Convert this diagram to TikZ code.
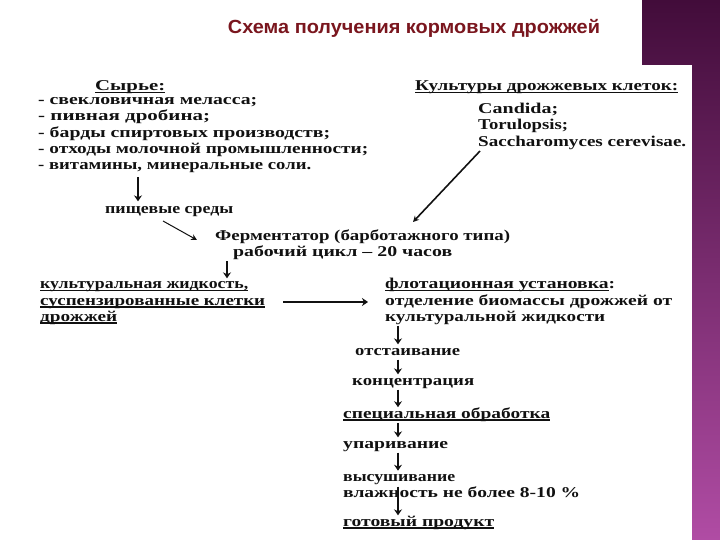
\documentclass[tikz,border=0pt]{standalone}
\usepackage{fontspec}
\setmainfont{Liberation Serif}
\newfontfamily\titlefont{Liberation Sans}
\usetikzlibrary{arrows.meta}
\definecolor{titlered}{RGB}{122,22,30}
\definecolor{plumtop}{RGB}{66,12,58}
\definecolor{plumbot}{RGB}{176,76,164}
\definecolor{ink}{RGB}{17,17,17}
\newsavebox\ulbox
\newcommand\fw[2]{\resizebox{#1pt}{\height}{\strut #2}}
\newcommand\ulx[1]{\sbox\ulbox{#1}\rlap{\rule[-2.5pt]{\wd\ulbox}{1.2pt}}\usebox\ulbox}
\tikzset{
  scan/.style={font=\fontsize{15}{15}\selectfont\bfseries, text=ink, inner sep=0pt, anchor=west, align=left},
  arr/.style={-{Stealth[length=6pt,width=8pt]}, line width=2pt, draw=ink},
  thinarr/.style={-{Stealth[length=6pt,width=6pt]}, line width=1.2pt, draw=ink}
}
\begin{document}
\begin{tikzpicture}[x=1pt,y=-1pt]
\useasboundingbox (0,0) rectangle (720,540);
\fill[white] (0,0) rectangle (720,540);
\shade[top color=plumtop, bottom color=plumbot] (642,0) rectangle (720,540);
\fill[white] (30,65) rectangle (692,540);

\node[font=\titlefont\bfseries\fontsize{19}{22}\selectfont, text=titlered, inner sep=0pt] (title) at (414,28) {\resizebox{372pt}{\height}{Схема получения кормовых дрожжей}};

\node[scan] (raw) at (95,88) {\fw{70}{\ulx{Сырье:}}};
\node[scan] (list) at (38,134) {\fw{219}{- свекловичная меласса;}\\ \fw{172}{- пивная дробина;}\\ \fw{292}{- барды спиртовых производств;}\\ \fw{330}{- отходы молочной промышленности;}\\ \fw{273}{- витамины, минеральные соли.}};

\node[scan] (cult) at (415,88) {\fw{263}{\ulx{Культуры дрожжевых клеток:}}};
\node[scan] (yeast) at (478,127) {\fw{80}{Candida;}\\ \fw{90}{Torulopsis;}\\ \fw{208}{Saccharomyces cerevisae.}};

\node[scan] (food) at (105,211) {\fw{128}{пищевые среды}};
\node[scan] (ferm) at (215,245.5) {\fw{295}{Ферментатор (барботажного типа)}\\ \hspace*{18pt}\fw{219}{рабочий цикл – 20 часов}};

\node[scan] (cl) at (40,302) {\fw{208}{\ulx{культуральная жидкость,}}\\ \fw{225}{\ulx{суспензированные клетки}}\\ \fw{77}{\ulx{дрожжей}}};
\node[scan] (flot) at (385,302) {\fw{230}{\ulx{флотационная установка}:}\\ \fw{287}{отделение биомассы дрожжей от}\\ \fw{220}{культуральной жидкости}};

\node[scan] (settle) at (355,352) {\fw{105}{отстаивание}};
\node[scan] (conc) at (352,382) {\fw{122}{концентрация}};
\node[scan] (spec) at (343,415) {\fw{207}{\ulx{специальная обработка}}};
\node[scan] (evap) at (343,445) {\fw{105}{упаривание}};
\node[scan] (dry) at (343,486.5) {\fw{112}{высушивание}\\ \fw{237}{влажность не более 8-10 \%}};
\node[scan] (prod) at (343,523) {\fw{151}{\ulx{готовый продукт}}};

\coordinate (xa) at (138,0);
\coordinate (xb) at (227,0);
\coordinate (xc) at (398,0);
\coordinate (d1s) at (163,221);
\coordinate (d1e) at (197,240);
\coordinate (d2s) at (480,151);
\coordinate (d2e) at (413,222);

\draw[arr, shorten <=3pt, shorten >=2pt] (list.south -| xa) -- (food.north -| xa);
\draw[thinarr, line width=1pt] (d1s) -- (d1e);
\draw[thinarr, line width=1.6pt] (d2s) -- (d2e);
\draw[arr] (ferm.south -| xb) -- (cl.north -| xb);
\draw[arr, line width=1.5pt, shorten <=18pt, shorten >=17pt] (cl.east) -- (flot.west);
\draw[arr] (flot.south -| xc) -- (settle.north -| xc);
\draw[arr] (settle.south -| xc) -- (conc.north -| xc);
\draw[arr] (conc.south -| xc) -- (spec.north -| xc);
\draw[arr] (spec.south -| xc) -- (evap.north -| xc);
\draw[arr] (evap.south -| xc) -- (dry.north -| xc);
\draw[arr] (dry.center -| xc) -- (prod.north -| xc);
\end{tikzpicture}
\end{document}
